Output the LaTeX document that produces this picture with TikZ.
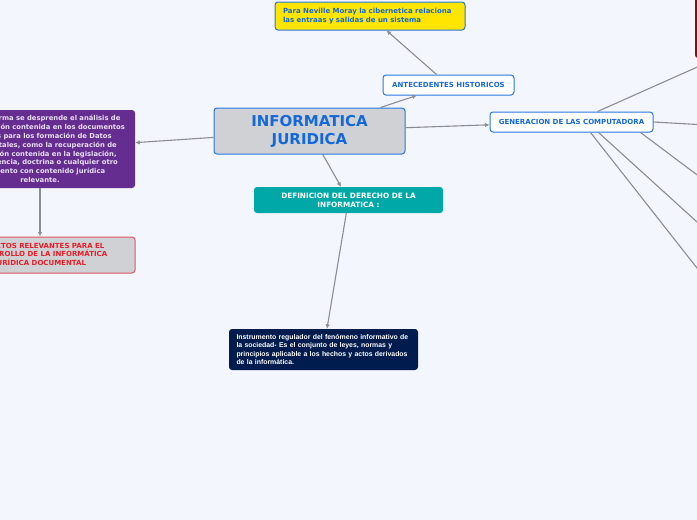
\documentclass[tikz,border=0pt]{standalone}
\usepackage{fontspec}
\setmainfont{DejaVu Sans}
\newfontfamily\arialfont{Liberation Sans}
\usepackage{tikz}
\usetikzlibrary{arrows.meta, positioning}
\definecolor{bgpage}{RGB}{244,246,253}
\definecolor{linkgray}{RGB}{140,140,150}
\definecolor{maingray}{RGB}{208,209,213}
\definecolor{mainblue}{RGB}{40,120,225}
\definecolor{topicblue}{RGB}{20,105,215}
\definecolor{purplebox}{RGB}{102,45,145}
\definecolor{purpletext}{RGB}{232,224,242}
\definecolor{redline}{RGB}{225,85,95}
\definecolor{redtext}{RGB}{230,30,40}
\definecolor{tealbox}{RGB}{0,168,168}
\definecolor{navybox}{RGB}{0,27,77}
\definecolor{yellowbox}{RGB}{255,229,0}
\definecolor{darkred}{RGB}{140,10,10}

\begin{document}
\begin{tikzpicture}[x=1pt, y=-1pt, >={Latex[length=4.5pt,width=4.5pt]},
  box/.style={rounded corners=3pt, inner sep=0pt, align=center,
              font=\bfseries\fontsize{7}{8.6}\selectfont},
  topic/.style={box, fill=white, draw=mainblue, line width=1pt, text=topicblue},
  link/.style={->, draw=linkgray, line width=1.1pt}]
  \clip (0,0) rectangle (697,520);
  \fill[bgpage] (0,0) rectangle (697,520);
  % central topic
  \node[box, fill=maingray, draw=mainblue, line width=1pt, text=topicblue,
        minimum width=191pt, minimum height=46pt,
        font=\bfseries\fontsize{15}{18}\selectfont] (main) at (309.5,131) {INFORMATICA\\JURIDICA};
  % left branch
  \node[box, fill=purplebox, text=purpletext, minimum width=190pt, minimum height=78pt,
        font=\bfseries\fontsize{6.8}{8.8}\selectfont] (analisis) at (40,149)
    {De esta forma se desprende el análisis de\\la información contenida en los documentos\\jurídicos para los formación de Datos\\Documentales, como la recuperación de\\información contenida en la legislación,\\jurisprudencia, doctrina o cualquier otro\\documento con contenido jurídica\\relevante.};
  \node[box, fill=maingray, draw=redline, line width=1pt, text=redtext,
        minimum width=190pt, minimum height=36pt,
        font=\bfseries\fontsize{7}{8.4}\selectfont] (aspectos) at (40,255)
    {ASPECTOS RELEVANTES PARA EL\\DESARROLLO DE LA INFORMÁTICA\\JURÍDICA DOCUMENTAL};
  % lower branch
  \node[box, fill=tealbox, text=white, minimum width=189pt, minimum height=26pt,
        font=\bfseries\fontsize{7.3}{9.3}\selectfont] (definicion) at (348.5,200)
    {DEFINICION DEL DERECHO DE LA\\INFORMATICA :};
  \node[box, fill=navybox, text=white, align=left, text width=174pt, inner xsep=7.5pt,
        minimum height=41pt,
        font=\arialfont\bfseries\fontsize{6.9}{8.3}\selectfont] (instrumento) at (323.5,349.5)
    {Instrumento regulador del fenómeno informativo de\\la sociedad- Es el conjunto de leyes, normas y\\principios aplicable a los hechos y actos derivados\\de la informática.};
  % upper branch
  \node[topic, minimum width=131pt, minimum height=20pt] (antecedentes) at (448.5,85)
    {ANTECEDENTES HISTORICOS};
  \node[box, fill=yellowbox, draw=mainblue, line width=1pt, text=topicblue, align=left,
        text width=174pt, inner xsep=8pt, minimum height=28pt,
        font=\bfseries\fontsize{7}{8.8}\selectfont] (moray) at (370,16)
    {Para Neville Moray la cibernetica relaciona\\las entraas y salidas de un sistema};
  % right branch
  \node[topic, minimum width=163pt, minimum height=20pt] (generacion) at (571.5,122)
    {GENERACION DE LAS COMPUTADORA};
  \node[box, fill=darkred, minimum width=90pt, minimum height=76pt] (primera) at (740,20) {};
  \coordinate (g1) at (740,48);
  \coordinate (g2) at (760,128);
  \coordinate (g3) at (740,207);
  \coordinate (g4) at (740,261);
  \coordinate (g5) at (730,310);
  % connectors
  \draw[link] (main) -- (analisis);
  \draw[link] (analisis) -- (aspectos);
  \draw[link] (main) -- (definicion);
  \draw[link] (definicion) -- (instrumento);
  \draw[link] (main) -- (antecedentes);
  \draw[link] (antecedentes) -- (moray);
  \draw[link] (main) -- (generacion);
  \draw[link] ([xshift=26pt]generacion.north) -- (g1);
  \draw[link] (generacion.east) -- (g2);
  \draw[link] ([xshift=69pt]generacion.south) -- (g3);
  \draw[link] ([xshift=27pt]generacion.south) -- (g4);
  \draw[link] ([xshift=19pt]generacion.south) -- (g5);
\end{tikzpicture}
\end{document}
